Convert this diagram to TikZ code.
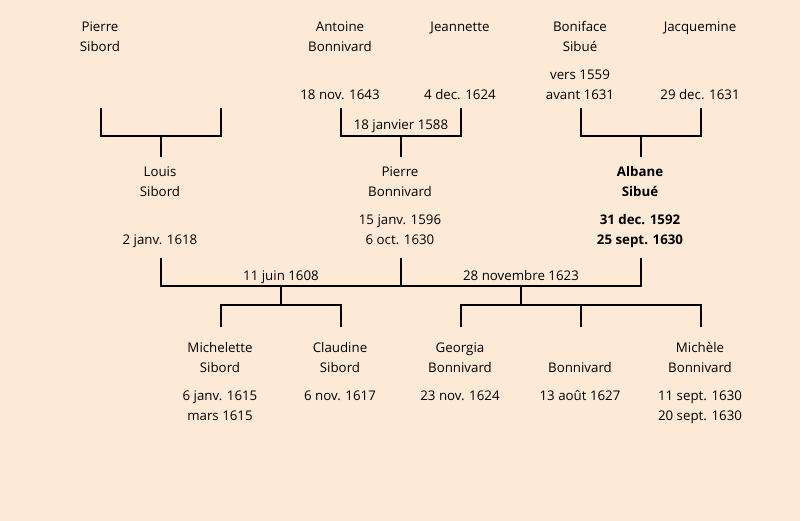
\documentclass[tikz,border=0pt]{standalone}
\usepackage{fontspec}
\setmainfont{Open Sans}
\definecolor{bg}{RGB}{252,234,215}
\begin{document}
\begin{tikzpicture}[x=1pt,y=-1pt,
  line width=2pt,
  txt/.style={inner sep=0pt, anchor=base, font=\fontsize{13.3}{16}\selectfont},
  bd/.style={txt, font=\fontsize{13.3}{16}\selectfont\bfseries},
  link/.style={draw=black, line width=2pt, line join=miter}]
\fill[bg] (0,0) rectangle (800,521);
\useasboundingbox (0,0) rectangle (800,521);
% generation 1
\node[txt] (ps1) at (100,32) {Pierre};
\node[txt] (ps2) at (100,52) {Sibord};
\node[txt] (ab1) at (340,32) {Antoine};
\node[txt] (ab2) at (340,52) {Bonnivard};
\node[txt] (abd) at (340,100) {18 nov. 1643};
\node[txt] (je1) at (460,32) {Jeannette};
\node[txt] (jed) at (460,100) {4 dec. 1624};
\node[txt] (bs1) at (580,32) {Boniface};
\node[txt] (bs2) at (580,52) {Sibué};
\node[txt] (bsd1) at (580,80) {vers 1559};
\node[txt] (bsd2) at (580,100) {avant 1631};
\node[txt] (jq1) at (700,32) {Jacquemine};
\node[txt] (jqd) at (700,100) {29 dec. 1631};
% brackets gen 1
\coordinate (a1) at (101,108); \coordinate (a2) at (221,108);
\coordinate (a1b) at (101,136); \coordinate (a2b) at (221,136);
\coordinate (a3) at (161,136); \coordinate (a4) at (161,157);
\draw[link] (a1) -- (a1b) -- (a2b) -- (a2);
\draw[link] (a3) -- (a4);
\coordinate (b1) at (341,108); \coordinate (b2) at (461,108);
\coordinate (b1b) at (341,136); \coordinate (b2b) at (461,136);
\coordinate (b3) at (401,136); \coordinate (b4) at (401,157);
\draw[link] (b1) -- (b1b) -- (b2b) -- (b2);
\draw[link] (b3) -- (b4);
\node[txt] (m1) at (401,130) {18 janvier 1588};
\coordinate (c1) at (581,108); \coordinate (c2) at (701,108);
\coordinate (c1b) at (581,136); \coordinate (c2b) at (701,136);
\coordinate (c3) at (641,136); \coordinate (c4) at (641,157);
\draw[link] (c1) -- (c1b) -- (c2b) -- (c2);
\draw[link] (c3) -- (c4);
% generation 2
\node[txt] (ls1) at (160,177) {Louis};
\node[txt] (ls2) at (160,197) {Sibord};
\node[txt] (lsd) at (160,245) {2 janv. 1618};
\node[txt] (pb1) at (400,177) {Pierre};
\node[txt] (pb2) at (400,197) {Bonnivard};
\node[txt] (pbd1) at (400,225) {15 janv. 1596};
\node[txt] (pbd2) at (400,245) {6 oct. 1630};
\node[bd] (as1) at (640,177) {Albane};
\node[bd] (as2) at (640,197) {Sibué};
\node[bd] (asd1) at (640,225) {31 dec. 1592};
\node[bd] (asd2) at (640,245) {25 sept. 1630};
% marriage line gen 2
\coordinate (d1) at (161,258); \coordinate (d1b) at (161,286);
\coordinate (d2) at (401,258); \coordinate (d2b) at (401,286);
\coordinate (d3) at (641,258); \coordinate (d3b) at (641,286);
\draw[link] (d1) -- (d1b) -- (d3b) -- (d3);
\draw[link] (d2) -- (d2b);
\node[txt] (m2) at (281,280) {11 juin 1608};
\node[txt] (m3) at (521,280) {28 novembre 1623};
% children of first marriage
\coordinate (e0) at (281,286); \coordinate (e0b) at (281,305);
\coordinate (e1) at (221,305); \coordinate (e1b) at (221,327);
\coordinate (e2) at (341,305); \coordinate (e2b) at (341,327);
\draw[link] (e0) -- (e0b);
\draw[link] (e1b) -- (e1) -- (e2) -- (e2b);
% children of second marriage
\coordinate (f0) at (521,286); \coordinate (f0b) at (521,305);
\coordinate (f1) at (461,305); \coordinate (f1b) at (461,327);
\coordinate (f2) at (581,305); \coordinate (f2b) at (581,327);
\coordinate (f3) at (701,305); \coordinate (f3b) at (701,327);
\draw[link] (f0) -- (f0b);
\draw[link] (f1b) -- (f1) -- (f3) -- (f3b);
\draw[link] (f2) -- (f2b);
% generation 3
\node[txt] (ms1) at (220,352) {Michelette};
\node[txt] (ms2) at (220,372) {Sibord};
\node[txt] (msd1) at (220,400) {6 janv. 1615};
\node[txt] (msd2) at (220,420) {mars 1615};
\node[txt] (cs1) at (340,352) {Claudine};
\node[txt] (cs2) at (340,372) {Sibord};
\node[txt] (csd) at (340,400) {6 nov. 1617};
\node[txt] (gb1) at (460,352) {Georgia};
\node[txt] (gb2) at (460,372) {Bonnivard};
\node[txt] (gbd) at (460,400) {23 nov. 1624};
\node[txt] (bb2) at (580,372) {Bonnivard};
\node[txt] (bbd) at (580,400) {13 août 1627};
\node[txt] (mb1) at (700,352) {Michèle};
\node[txt] (mb2) at (700,372) {Bonnivard};
\node[txt] (mbd1) at (700,400) {11 sept. 1630};
\node[txt] (mbd2) at (700,420) {20 sept. 1630};
\end{tikzpicture}
\end{document}
